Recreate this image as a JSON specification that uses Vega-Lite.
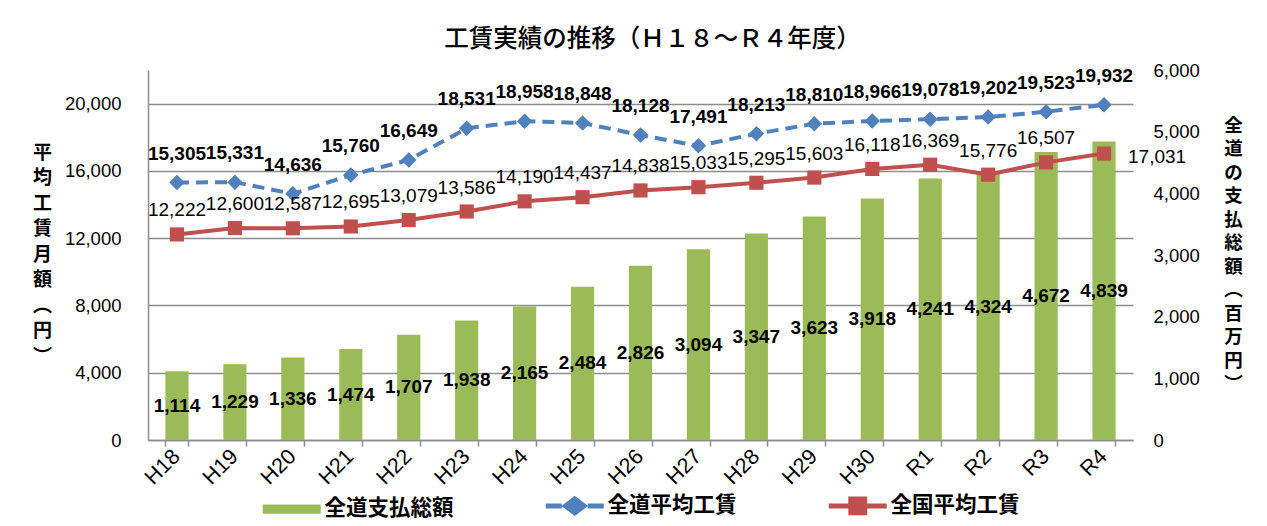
{
  "$schema": "https://vega.github.io/schema/vega-lite/v6.json",
  "width": 985,
  "height": 370,
  "autosize": {"type": "none"},
  "padding": {"left": 148, "top": 70, "right": 134, "bottom": 86},
  "background": "white",
  "title": {"text": "工賃実績の推移（Ｈ１８～Ｒ４年度）", "font": "Noto Sans CJK JP", "fontSize": 24.5, "fontWeight": 500, "color": "#000000", "offset": 9, "anchor": "middle", "dx": 12},
  "config": {
    "view": {"stroke": null},
    "axis": {"labelFont": "Liberation Sans", "labelColor": "#000000", "titleColor": "#000000"}
  },
  "data": {"values": [
    {"year": "H18", "total": 1114, "hokkaido": 15305, "national": 12222},
    {"year": "H19", "total": 1229, "hokkaido": 15331, "national": 12600},
    {"year": "H20", "total": 1336, "hokkaido": 14636, "national": 12587},
    {"year": "H21", "total": 1474, "hokkaido": 15760, "national": 12695},
    {"year": "H22", "total": 1707, "hokkaido": 16649, "national": 13079},
    {"year": "H23", "total": 1938, "hokkaido": 18531, "national": 13586},
    {"year": "H24", "total": 2165, "hokkaido": 18958, "national": 14190},
    {"year": "H25", "total": 2484, "hokkaido": 18848, "national": 14437},
    {"year": "H26", "total": 2826, "hokkaido": 18128, "national": 14838},
    {"year": "H27", "total": 3094, "hokkaido": 17491, "national": 15033},
    {"year": "H28", "total": 3347, "hokkaido": 18213, "national": 15295},
    {"year": "H29", "total": 3623, "hokkaido": 18810, "national": 15603},
    {"year": "H30", "total": 3918, "hokkaido": 18966, "national": 16118},
    {"year": "R1", "total": 4241, "hokkaido": 19078, "national": 16369},
    {"year": "R2", "total": 4324, "hokkaido": 19202, "national": 15776},
    {"year": "R3", "total": 4672, "hokkaido": 19523, "national": 16507},
    {"year": "R4", "total": 4839, "hokkaido": 19932, "national": 17031}
  ]},
  "layer": [
    {
      "mark": {"type": "bar"},
      "encoding": {
        "x": {"field": "year", "type": "nominal", "sort": null,
              "scale": {"type": "band", "paddingInner": 0.6, "paddingOuter": 0.3},
              "axis": {"orient": "bottom", "title": null, "ticks": false, "domain": false, "grid": false,
                       "labelAngle": -45, "labelAlign": "right", "labelBaseline": "middle", "labelPadding": 13,
                       "labelFontSize": 21.5, "labelFont": "Liberation Sans"}},
        "y": {"field": "total", "type": "quantitative",
              "scale": {"domain": [0, 6000], "nice": false},
              "axis": {"orient": "right", "values": [0, 1000, 2000, 3000, 4000, 5000, 6000], "format": ",.0f",
                       "grid": false, "domain": false, "ticks": false, "labelPadding": 20, "labelFontSize": 18.5,
                       "title": ["全", "道", "の", "支", "払", "総", "額", "︵", "百", "万", "円", "︶"],
                       "titleAngle": 0, "titleFont": "Noto Sans CJK JP", "titleFontSize": 18.5, "titleFontWeight": "bold",
                       "titleLineHeight": 23.5, "titleX": 100, "titleY": 55, "titleAlign": "center", "titleBaseline": "middle"}},
        "color": {"datum": "全道支払総額", "type": "nominal",
                  "scale": {"domain": ["全道支払総額", "全道平均工賃", "全国平均工賃"], "range": ["#9BBB59", "#4F81BD", "#C0504D"]},
                  "legend": {"orient": "none", "legendX": 133, "legendY": 425, "direction": "horizontal", "title": null,
                             "symbolSize": 3364, "columnPadding": 81, "labelOffset": 22,
                             "labelFont": "Noto Sans CJK JP", "labelFontSize": 21.5, "labelFontWeight": "bold", "labelColor": "#000000",
                             "encoding": {"symbols": {
                               "shape": {"value": {"expr": "datum.value === '全道支払総額' ? 'M-1,-0.16L1,-0.16L1,0.16L-1,0.16Z' : datum.value === '全道平均工賃' ? 'M-1,0L-0.45,0M0.45,0L1,0M0,-0.24L0.32,0L0,0.24L-0.32,0Z' : 'M-1,0L1,0M-0.24,-0.24L0.24,-0.24L0.24,0.24L-0.24,0.24Z'"}},
                               "fill": {"value": {"expr": "datum.value === '全道支払総額' ? '#9BBB59' : datum.value === '全道平均工賃' ? '#4F81BD' : '#C0504D'"}},
                               "stroke": {"value": {"expr": "datum.value === '全道支払総額' ? '#9BBB59' : datum.value === '全道平均工賃' ? '#4F81BD' : '#C0504D'"}},
                               "strokeWidth": {"value": {"expr": "datum.value === '全道支払総額' ? 0 : 5"}},
                               "opacity": {"value": 1},
                               "fillOpacity": {"value": 1}
                             }}}}
      }
    },
    {
      "mark": {"type": "text", "font": "Liberation Sans", "fontSize": 19, "fontWeight": "bold", "baseline": "middle", "align": "center", "color": "#000000"},
      "encoding": {
        "x": {"field": "year", "type": "nominal", "sort": null, "scale": {"type": "band", "paddingInner": 0.6, "paddingOuter": 0.3}, "axis": null},
        "y": {"field": "total", "type": "quantitative", "scale": {"domain": [0, 12000], "nice": false}, "axis": null},
        "text": {"field": "total", "type": "quantitative", "format": ","}
      }
    },
    {
      "encoding": {
        "x": {"field": "year", "type": "nominal", "sort": null,
              "scale": {"type": "band", "paddingInner": 0.6, "paddingOuter": 0.3},
              "axis": {"orient": "bottom", "title": null, "labels": false, "ticks": true, "tickSize": 6, "tickColor": "#8c8c8c", "tickWidth": 1.5,
                       "bandPosition": 1, "tickExtra": true, "domain": true, "domainColor": "#8c8c8c", "domainWidth": 1.5, "grid": false}}
      },
      "layer": [
        {
          "mark": {"type": "line", "color": "#4F81BD", "strokeWidth": 4, "strokeDash": [12, 7]},
          "encoding": {
            "y": {"field": "hokkaido", "type": "quantitative", "scale": {"domain": [0, 22000], "nice": false},
                  "axis": {"orient": "left", "values": [0, 4000, 8000, 12000, 16000, 20000], "format": ",.0f",
                           "grid": true, "gridColor": "#8c8c8c", "gridWidth": 1.5, "domain": true, "domainColor": "#8c8c8c", "domainWidth": 1.5,
                           "ticks": false, "labelPadding": 27, "labelFontSize": 18.5,
                           "title": ["平", "均", "工", "賃", "月", "額", "︵", "円", "︶"],
                           "titleAngle": 0, "titleFont": "Noto Sans CJK JP", "titleFontSize": 19, "titleFontWeight": "bold",
                           "titleLineHeight": 25.5, "titleX": -106, "titleY": 82, "titleAlign": "center", "titleBaseline": "middle"}}
          }
        },
        {
          "mark": {"type": "point", "shape": "diamond", "filled": true, "size": 240, "color": "#4F81BD", "opacity": 1},
          "encoding": {"y": {"field": "hokkaido", "type": "quantitative"}}
        },
        {
          "mark": {"type": "line", "color": "#C0504D", "strokeWidth": 4},
          "encoding": {"y": {"field": "national", "type": "quantitative"}}
        },
        {
          "mark": {"type": "point", "shape": "square", "filled": true, "size": 200, "color": "#C0504D", "opacity": 1},
          "encoding": {"y": {"field": "national", "type": "quantitative"}}
        },
        {
          "mark": {"type": "text", "font": "Liberation Sans", "fontSize": 19, "fontWeight": "bold", "baseline": "alphabetic", "align": "center", "dy": -23, "color": "#000000"},
          "encoding": {
            "y": {"field": "hokkaido", "type": "quantitative"},
            "text": {"field": "hokkaido", "type": "quantitative", "format": ","}
          }
        },
        {
          "transform": [{"filter": "datum.year !== 'R4'"}],
          "mark": {"type": "text", "font": "Liberation Sans", "fontSize": 19, "fontWeight": "normal", "baseline": "alphabetic", "align": "center", "dy": -18, "color": "#000000"},
          "encoding": {
            "y": {"field": "national", "type": "quantitative"},
            "text": {"field": "national", "type": "quantitative", "format": ","}
          }
        },
        {
          "transform": [{"filter": "datum.year === 'R4'"}],
          "mark": {"type": "text", "font": "Liberation Sans", "fontSize": 19, "fontWeight": "normal", "baseline": "middle", "align": "left", "dx": 24, "dy": 3, "color": "#000000"},
          "encoding": {
            "y": {"field": "national", "type": "quantitative"},
            "text": {"field": "national", "type": "quantitative", "format": ","}
          }
        }
      ]
    }
  ],
  "resolve": {"scale": {"y": "independent"}, "axis": {"x": "independent", "y": "independent"}}
}
